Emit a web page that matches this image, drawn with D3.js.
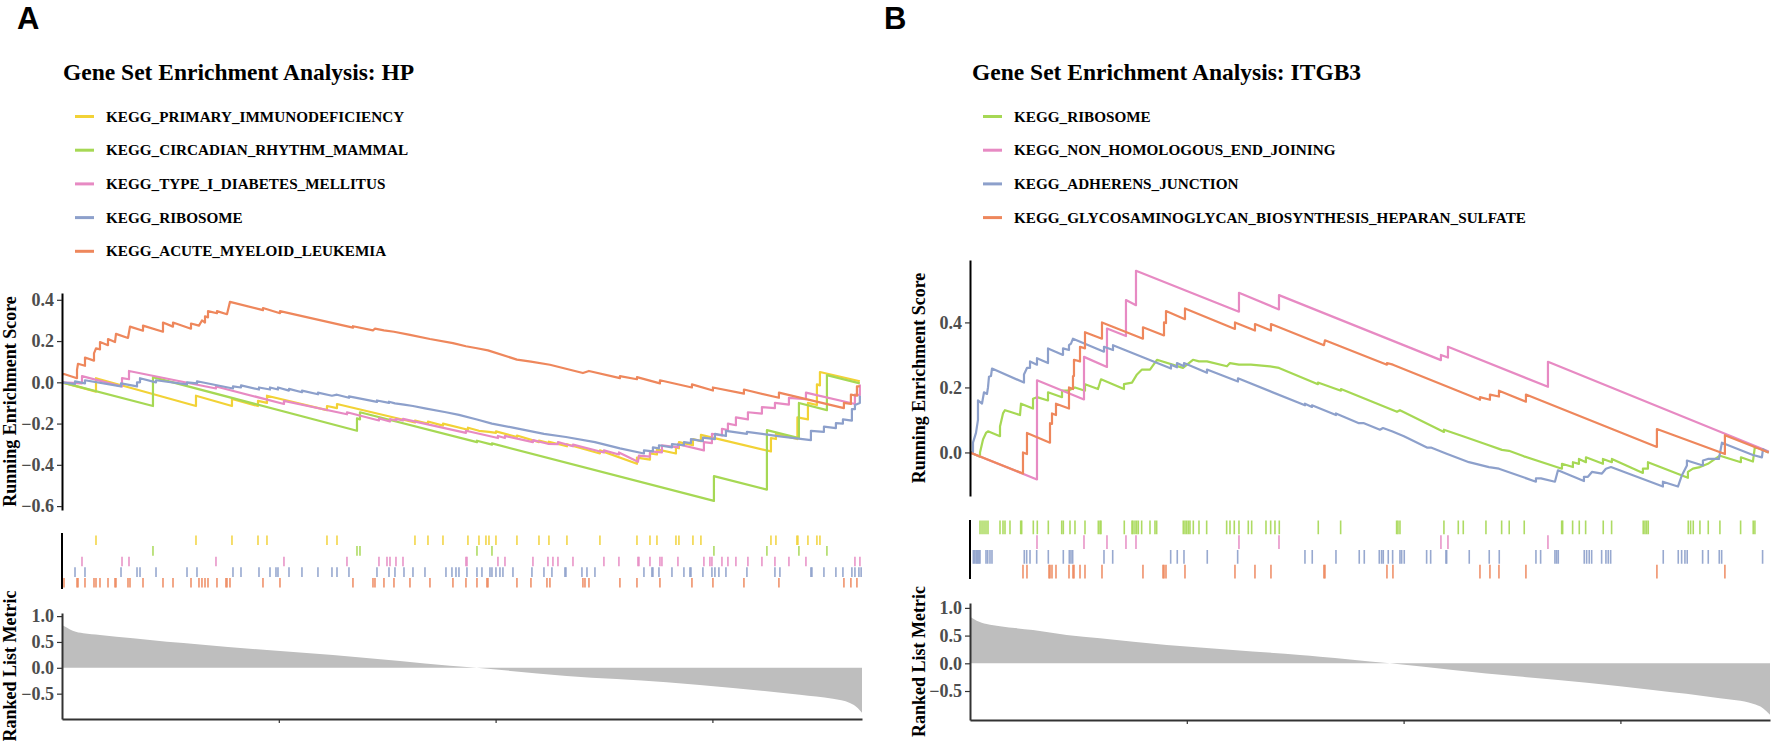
<!DOCTYPE html>
<html>
<head>
<meta charset="utf-8">
<script src="https://cdn.jsdelivr.net/npm/d3@7"></script>
<style>
body { margin: 0; background: #fff; }
svg text { font-family: "Liberation Serif", "Times New Roman", serif; font-weight: bold; }
</style>
</head>
<body>
<div id="chart"></div>
<script>
// ranked gene list length and the unlabeled ticks on the rank axis
const nGenes = 18450;
const rankTicks = [5000, 10000, 15000];
const metricTicks = [-0.5, 0, 0.5, 1];

// ---------- panel A : HP ----------
const titleA = "Gene Set Enrichment Analysis: HP";
const setsA = ["KEGG_PRIMARY_IMMUNODEFICIENCY", "KEGG_CIRCADIAN_RHYTHM_MAMMAL",
  "KEGG_TYPE_I_DIABETES_MELLITUS", "KEGG_RIBOSOME", "KEGG_ACUTE_MYELOID_LEUKEMIA"];
const esTicksA = [-0.6, -0.4, -0.2, 0, 0.2, 0.4];

// running enrichment score, [rank, score]
const esA_primary = [[0,0],[784,-0.045],[784,0.02],[3090,-0.115],[3090,-0.065],[3920,-0.115],[3920,-0.08],[4520,-0.115],[4520,-0.09],[4727,-0.1],[4727,-0.065],[6111,-0.135],[6111,-0.115],[6342,-0.125],[6342,-0.105],[8140,-0.195],[8140,-0.185],[8440,-0.2],[8440,-0.19],[8786,-0.21],[8786,-0.2],[9362,-0.23],[9362,-0.22],[9616,-0.235],[9847,-0.24],[10008,-0.245],[10008,-0.238],[10492,-0.265],[10492,-0.258],[11000,-0.29],[11000,-0.282],[11230,-0.295],[11230,-0.288],[11645,-0.31],[11645,-0.3],[12406,-0.345],[12406,-0.33],[13260,-0.395],[13260,-0.365],[13560,-0.375],[13560,-0.345],[13721,-0.35],[13721,-0.325],[14159,-0.345],[14159,-0.315],[14228,-0.32],[14228,-0.29],[14551,-0.305],[14551,-0.275],[14735,-0.285],[14735,-0.255],[16350,-0.335],[16350,-0.27],[16465,-0.275],[16465,-0.25],[16960,-0.275],[16960,-0.17],[17203,-0.18],[17203,-0.1],[17410,-0.11],[17410,-0.01],[17480,-0.015],[17480,0.05],[18400,0.005]];
const esA_circadian = [[0,0],[2098,-0.115],[2098,0.025],[6803,-0.235],[6803,-0.175],[6872,-0.18],[6872,-0.145],[9570,-0.29],[9570,-0.283],[9916,-0.302],[9916,-0.296],[15035,-0.575],[15035,-0.455],[16257,-0.52],[16257,-0.232],[16995,-0.27],[16995,-0.1],[17641,-0.135],[17641,0.035],[18400,-0.005]];
const esA_diabetes = [[0,0],[461,-0.005],[461,0.03],[1384,-0.02],[1384,0.02],[1545,0.015],[1545,0.055],[3551,-0.03],[3551,-0.02],[5119,-0.105],[5119,-0.09],[6572,-0.155],[6572,-0.145],[7310,-0.185],[7310,-0.175],[7564,-0.19],[7564,-0.178],[7702,-0.185],[7702,-0.177],[7864,-0.185],[7864,-0.177],[9316,-0.245],[9316,-0.235],[10054,-0.27],[10054,-0.26],[10216,-0.27],[10216,-0.26],[10861,-0.29],[10861,-0.28],[11207,-0.298],[11438,-0.3],[11438,-0.29],[11784,-0.31],[11784,-0.302],[12498,-0.34],[12498,-0.33],[12844,-0.35],[12844,-0.34],[13283,-0.385],[13306,-0.355],[13560,-0.36],[13560,-0.335],[13836,-0.34],[13836,-0.305],[14205,-0.315],[14205,-0.3],[14804,-0.33],[14804,-0.29],[14989,-0.295],[14989,-0.25],[15220,-0.258],[15220,-0.225],[15358,-0.232],[15358,-0.2],[15542,-0.208],[15542,-0.17],[15819,-0.18],[15819,-0.145],[16142,-0.152],[16142,-0.12],[16442,-0.125],[16442,-0.1],[16765,-0.108],[16765,-0.075],[17157,-0.082],[17157,-0.05],[18287,-0.105],[18287,-0.06],[18400,-0.062],[18400,-0.01]];
const esA_ribosome = [[0,0],[300,-0.008],[300,0.005],[530,-0.005],[530,0.01],[1361,-0.02],[1361,-0.005],[1730,-0.02],[1730,0],[1799,0],[1799,0.02],[2168,0],[2168,0.01],[2883,-0.01],[2883,0],[3113,-0.005],[3113,0.005],[3943,-0.03],[3943,-0.02],[4128,-0.025],[4128,-0.015],[4543,-0.035],[4543,-0.025],[4797,-0.035],[4797,-0.025],[4981,-0.035],[4981,-0.025],[5235,-0.04],[5235,-0.032],[5534,-0.048],[5534,-0.04],[5903,-0.058],[5903,-0.05],[6226,-0.065],[6342,-0.06],[6618,-0.075],[6618,-0.068],[7264,-0.095],[7264,-0.088],[7541,-0.1],[7541,-0.094],[7679,-0.102],[7887,-0.108],[8094,-0.115],[8371,-0.126],[8855,-0.145],[9155,-0.158],[9570,-0.18],[9916,-0.2],[10400,-0.22],[11115,-0.25],[11622,-0.265],[12291,-0.29],[12868,-0.32],[13421,-0.345],[13421,-0.33],[13628,-0.335],[13628,-0.315],[13767,-0.32],[13767,-0.305],[14067,-0.315],[14067,-0.3],[14343,-0.305],[14343,-0.29],[14505,-0.295],[14505,-0.275],[14781,-0.285],[14781,-0.268],[15058,-0.275],[15058,-0.25],[15312,-0.26],[15312,-0.235],[15796,-0.25],[15796,-0.24],[16557,-0.262],[17272,-0.28],[17272,-0.235],[17572,-0.24],[17572,-0.215],[17848,-0.222],[17848,-0.198],[18010,-0.2],[18010,-0.18],[18217,-0.186],[18217,-0.13],[18287,-0.13],[18287,-0.11],[18400,-0.1],[18400,-0.065]];
const esA_aml = [[0,0.04],[46,0.04],[346,0.02],[346,0.06],[369,0.09],[530,0.08],[530,0.12],[738,0.105],[738,0.14],[784,0.165],[876,0.16],[876,0.195],[1061,0.18],[1061,0.21],[1222,0.195],[1245,0.235],[1522,0.215],[1568,0.27],[1868,0.25],[1868,0.275],[2329,0.245],[2329,0.29],[2560,0.27],[2560,0.29],[2975,0.26],[2975,0.285],[3159,0.275],[3228,0.3],[3298,0.29],[3298,0.32],[3367,0.315],[3367,0.345],[3574,0.335],[3574,0.345],[3805,0.33],[3874,0.39],[4635,0.35],[4635,0.36],[5027,0.335],[5027,0.345],[6710,0.265],[6710,0.272],[7172,0.252],[7218,0.26],[7425,0.252],[7656,0.245],[8025,0.23],[8486,0.21],[9016,0.19],[9316,0.175],[9570,0.165],[9824,0.155],[10492,0.11],[10815,0.1],[11253,0.085],[12014,0.045],[12153,0.055],[12867,0.02],[12867,0.03],[13260,0.015],[13260,0.025],[13790,-0.005],[13790,0.01],[14528,-0.025],[14528,-0.01],[15012,-0.04],[15012,-0.025],[15727,-0.055],[15727,-0.035],[16534,-0.075],[16534,-0.05],[18033,-0.125],[18033,-0.1],[18194,-0.105],[18194,-0.06],[18333,-0.065],[18333,-0.02],[18400,-0.02]];

// gene hit positions (rank) for the rug rows
const hitsA_primary = [784,3090,3920,4520,4727,6111,6342,8140,8440,8786,9362,9616,9777,9847,10008,10492,11000,11230,11645,12406,13260,13560,13721,14159,14228,14551,14735,16350,16465,16949,16972,17203,17410,17480];
const hitsA_circadian = [2098,6803,6872,9570,9916,15035,16257,16995,17641];
const hitsA_diabetes = [461,1384,1545,3551,5119,6572,7310,7495,7564,7702,7864,9316,9340,10054,10216,10861,11207,11322,11438,11784,12498,12844,13283,13306,13560,13790,13836,14205,14804,14943,14989,15220,15358,15542,15819,16142,16442,16765,17157,18287,18402];
const hitsA_ribosome = [300,530,1361,1730,1799,2168,2883,3113,3943,4128,4543,4797,4935,4981,5235,5534,5903,6226,6342,6618,7264,7541,7679,7887,8094,8371,8855,8993,9086,9155,9339,9570,9685,9870,9916,10008,10100,10169,10400,10838,11115,11299,11599,11622,11991,12107,12291,13421,13605,13628,13767,14067,14343,14482,14505,14781,14989,15058,15150,15312,15796,16442,16557,17272,17295,17572,17848,18010,18217,18287,18379,18430];
const hitsA_aml = [46,346,369,530,738,784,876,1061,1222,1245,1522,1568,1868,2329,2560,2975,3159,3228,3298,3367,3574,3781,3805,3874,4635,5027,6710,7172,7218,7425,7656,8025,8486,9016,9316,9570,9800,9824,10492,10815,11184,11253,12014,12061,12153,12867,13260,13790,14528,15012,15727,16534,18033,18194,18333];

// ranked list metric, [rank, metric]
const metricA = [[0,0.83],[108,0.78],[261,0.71],[491,0.667],[876,0.634],[1637,0.57],[2421,0.504],[3182,0.453],[4727,0.343],[6249,0.246],[7794,0.13],[8947,0.04],[9563,0],[11638,-0.16],[13945,-0.28],[15473,-0.39],[17018,-0.52],[17779,-0.6],[18171,-0.68],[18356,-0.78],[18450,-0.87]];

// ---------- panel B : ITGB3 ----------
const titleB = "Gene Set Enrichment Analysis: ITGB3";
const setsB = ["KEGG_RIBOSOME", "KEGG_NON_HOMOLOGOUS_END_JOINING",
  "KEGG_ADHERENS_JUNCTION", "KEGG_GLYCOSAMINOGLYCAN_BIOSYNTHESIS_HEPARAN_SULFATE"];
const esTicksB = [0, 0.2, 0.4];

const esB_ribosome = [[0,0],[231,-0.013],[231,0],[300,0.04],[369,0.06],[415,0.065],[692,0.05],[692,0.08],[761,0.12],[807,0.13],[922,0.125],[1153,0.115],[1176,0.15],[1453,0.135],[1453,0.165],[1545,0.17],[1799,0.16],[1799,0.185],[2122,0.17],[2122,0.19],[2260,0.19],[2421,0.2],[2652,0.19],[2652,0.21],[2952,0.195],[3021,0.225],[3551,0.195],[3551,0.21],[3736,0.215],[3851,0.24],[3966,0.255],[4151,0.255],[4312,0.285],[4912,0.26],[5142,0.285],[5281,0.28],[5465,0.28],[5926,0.265],[5996,0.275],[6203,0.27],[6480,0.27],[6918,0.265],[7126,0.26],[8025,0.21],[8025,0.215],[8555,0.19],[8555,0.195],[9847,0.125],[9916,0.13],[10930,0.063],[10930,0.07],[11369,0.05],[11899,0.025],[12268,0.008],[12429,0.005],[12775,-0.012],[13652,-0.05],[13652,-0.035],[13905,-0.045],[13905,-0.03],[14044,-0.035],[14044,-0.02],[14205,-0.03],[14205,-0.015],[14597,-0.035],[14597,-0.02],[14804,-0.03],[14804,-0.02],[15519,-0.063],[15519,-0.05],[15635,-0.05],[15635,-0.03],[16557,-0.078],[16557,-0.06],[16672,-0.05],[16834,-0.045],[17018,-0.035],[17295,-0.01],[17779,-0.03],[17779,-0.015],[18056,-0.028],[18102,0.018],[18420,0]];
const esB_nhej = [[0,0],[1545,-0.083],[1545,0.222],[2629,0.163],[2629,0.294],[3159,0.263],[3159,0.381],[3597,0.358],[3597,0.469],[3828,0.453],[3828,0.559],[6203,0.433],[6203,0.491],[7126,0.44],[7126,0.484],[10861,0.284],[10861,0.3],[11023,0.292],[11023,0.325],[13329,0.202],[13329,0.279],[18420,0.003]];
const esB_adherens = [[0,0],[69,0],[69,0.03],[138,0.06],[184,0.1],[184,0.16],[277,0.15],[323,0.185],[392,0.18],[415,0.2],[438,0.233],[484,0.235],[507,0.258],[1245,0.215],[1245,0.24],[1314,0.26],[1384,0.26],[1384,0.28],[1545,0.27],[1545,0.29],[1799,0.275],[1799,0.32],[2145,0.3],[2145,0.32],[2283,0.315],[2283,0.33],[2329,0.335],[2375,0.35],[3090,0.31],[3090,0.325],[3298,0.315],[3298,0.33],[4635,0.258],[4635,0.27],[4773,0.262],[4773,0.275],[4935,0.265],[4935,0.275],[5465,0.245],[5465,0.255],[6180,0.218],[6180,0.228],[7725,0.145],[7725,0.15],[7887,0.14],[7887,0.145],[8440,0.115],[8440,0.12],[8970,0.09],[9086,0.09],[9455,0.07],[9524,0.075],[9731,0.065],[10008,0.05],[10538,0.015],[10630,0.015],[10977,-0.003],[11507,-0.03],[11968,-0.045],[12199,-0.05],[13052,-0.09],[13052,-0.08],[13167,-0.08],[13490,-0.09],[13560,-0.055],[14159,-0.088],[14159,-0.075],[14251,-0.075],[14343,-0.06],[14574,-0.065],[14666,-0.05],[14781,-0.045],[15980,-0.105],[15980,-0.09],[16327,-0.105],[16419,-0.07],[16534,-0.04],[16534,-0.025],[16903,-0.04],[16903,-0.025],[17018,-0.02],[17272,-0.02],[17341,0.03],[18056,-0.008],[18264,-0.015],[18287,0.01],[18420,0]];
const esB_heparan = [[0,0],[1222,-0.065],[1222,0],[1314,-0.005],[1314,0.06],[1845,0.03],[1845,0.09],[1891,0.088],[1891,0.12],[1983,0.115],[1983,0.15],[2283,0.135],[2283,0.2],[2375,0.195],[2375,0.235],[2398,0.235],[2398,0.285],[2537,0.28],[2537,0.325],[2652,0.32],[2652,0.37],[3044,0.35],[3044,0.4],[3989,0.35],[3989,0.385],[4474,0.36],[4474,0.4],[4520,0.398],[4520,0.435],[4958,0.41],[4958,0.443],[6111,0.38],[6111,0.4],[6572,0.375],[6572,0.395],[6941,0.375],[6941,0.395],[8163,0.33],[8186,0.345],[9616,0.27],[9616,0.275],[9754,0.27],[11761,0.162],[11761,0.17],[11991,0.162],[11991,0.178],[12199,0.172],[12199,0.19],[12821,0.156],[12821,0.178],[15842,0.017],[15842,0.072],[17410,-0.005],[17410,0.053],[18420,0]];

const hitsB_ribosome = [231,277,323,369,415,692,761,807,922,1169,1192,1460,1552,1806,2115,2152,2306,2421,2652,2959,2998,3021,3558,3736,3759,3805,3844,3882,3959,4151,4266,4305,4919,4958,4996,5035,5073,5150,5281,5458,5919,5996,6095,6203,6418,6496,6826,6934,7033,7133,8032,8548,9839,9870,9916,10930,11261,11376,11899,12261,12436,12782,13645,13668,13898,14051,14198,14604,14797,15526,15566,15604,15642,16565,16619,16680,16834,17026,17295,17772,18063,18102];
const hitsB_nhej = [1545,2629,3159,3597,3828,6203,7126,10861,11023,13329];
const hitsB_adherens = [76,104,138,161,184,208,231,369,408,461,507,1252,1307,1384,1538,1806,2152,2290,2329,2368,3090,3291,4628,4780,4935,5472,6173,7725,7893,8440,8977,9093,9439,9493,9531,9646,9747,9916,9955,10015,10531,10624,10977,10993,11514,11975,12206,13052,13160,13490,13529,13567,14166,14221,14281,14337,14567,14666,14720,14775,15988,16334,16412,16488,16541,16896,17026,17280,17335,18279];
const hitsB_heparan = [1222,1314,1822,1845,1891,1983,2283,2375,2398,2537,2652,3044,3989,4451,4474,4520,4958,6111,6572,6941,8163,8186,9616,9754,11761,11991,12199,12821,15842,17410];

const metricB = [[0,0.84],[154,0.77],[385,0.71],[692,0.67],[1453,0.6],[2230,0.51],[2998,0.45],[4536,0.33],[6065,0.24],[7610,0.15],[8071,0.12],[8763,0.07],[9685,0],[11138,-0.12],[12683,-0.24],[14228,-0.35],[15750,-0.48],[17295,-0.63],[18056,-0.73],[18287,-0.81],[18450,-0.93]];

// colours
const yellow = "#F2D236", green = "#A6D854", pink = "#E78AC3", blue = "#8DA0CB", orange = "#EE875C";

let width = 1772;
let height = 741;

let svg = d3.select("#chart")
  .append("svg")
  .attr("width", width)
  .attr("height", height);

svg.append("rect")
  .attr("width", width)
  .attr("height", height)
  .attr("fill", "white");

drawPanel({
  letter: "A", letterX: 17, title: titleA, titleX: 63,
  sets: setsA, colors: [yellow, green, pink, blue, orange],
  es: [esA_primary, esA_circadian, esA_diabetes, esA_ribosome, esA_aml],
  hits: [hitsA_primary, hitsA_circadian, hitsA_diabetes, hitsA_ribosome, hitsA_aml],
  metric: metricA, esTicks: esTicksA,
  left: 62, right: 862, legendLineX: 75, legendTextX: 106, legendY0: 116.5, legendStep: 33.7,
  esDomain: [-0.619, 0.433], esRange: [510, 293],
  rugTop: 535, rugBottom: 588, rugAxis: [533, 589],
  metricDomain: [-0.99, 1.06], metricRange: [719, 613],
  labelX: 16
});

drawPanel({
  letter: "B", letterX: 884, title: titleB, titleX: 972,
  sets: setsB, colors: [green, pink, blue, orange],
  es: [esB_ribosome, esB_nhej, esB_adherens, esB_heparan],
  hits: [hitsB_ribosome, hitsB_nhej, hitsB_adherens, hitsB_heparan],
  metric: metricB, esTicks: esTicksB,
  left: 970, right: 1770, legendLineX: 983, legendTextX: 1014, legendY0: 116.5, legendStep: 33.7,
  esDomain: [-0.134, 0.592], esRange: [496, 260],
  rugTop: 520, rugBottom: 579, rugAxis: [520, 579],
  metricDomain: [-1.023, 1.088], metricRange: [720, 603],
  labelX: 925
});

function drawPanel(p) {
  let g = svg.append("g");

  g.append("text")
    .attr("x", p.letterX).attr("y", 29)
    .style("font-family", "'Liberation Sans', Arial, sans-serif")
    .style("font-size", "31px")
    .text(p.letter);

  g.append("text")
    .attr("x", p.titleX).attr("y", 80)
    .style("font-size", "23.5px")
    .text(p.title);

  // legend
  let leg = g.selectAll(".leg").data(p.sets).enter().append("g");
  leg.append("line")
    .attr("x1", p.legendLineX).attr("x2", p.legendLineX + 19)
    .attr("y1", (d, i) => p.legendY0 + i * p.legendStep)
    .attr("y2", (d, i) => p.legendY0 + i * p.legendStep)
    .attr("stroke", (d, i) => p.colors[i])
    .attr("stroke-width", 3);
  leg.append("text")
    .attr("x", p.legendTextX)
    .attr("y", (d, i) => p.legendY0 + i * p.legendStep + 5)
    .style("font-size", "15.2px")
    .text(d => d);

  let xScale = d3.scaleLinear().domain([0, nGenes]).range([p.left, p.right]);
  let yEs = d3.scaleLinear().domain(p.esDomain).range(p.esRange);
  let yMetric = d3.scaleLinear().domain(p.metricDomain).range(p.metricRange);

  // running enrichment score
  let line = d3.line().x(d => xScale(d[0])).y(d => yEs(d[1]));
  g.selectAll(".es").data(p.es).enter().append("path")
    .attr("d", line)
    .attr("fill", "none")
    .attr("stroke", (d, i) => p.colors[i])
    .attr("stroke-width", 2.2)
    .attr("stroke-linejoin", "round");

  let esAxis = g.append("g")
    .attr("transform", `translate(${p.left},0)`)
    .call(d3.axisLeft(yEs).tickValues(p.esTicks).tickFormat(d3.format(".1f")).tickSize(5).tickSizeOuter(0));
  styleAxis(esAxis, "black");

  // hit rug
  let rowH = (p.rugBottom - p.rugTop) / p.sets.length;
  p.hits.forEach((hits, i) => {
    g.append("g").selectAll("line").data(hits).enter().append("line")
      .attr("x1", d => xScale(d)).attr("x2", d => xScale(d))
      .attr("y1", p.rugTop + i * rowH + 0.5)
      .attr("y2", p.rugTop + (i + 1) * rowH - 0.5)
      .attr("stroke", p.colors[i])
      .attr("stroke-width", 1.6)
      .attr("opacity", 0.9);
  });
  g.append("line")
    .attr("x1", p.left).attr("x2", p.left)
    .attr("y1", p.rugAxis[0]).attr("y2", p.rugAxis[1])
    .attr("stroke", "black").attr("stroke-width", 2);

  // ranked list metric
  let area = d3.area()
    .x(d => xScale(d[0]))
    .y0(yMetric(0))
    .y1(d => yMetric(d[1]))
    .curve(d3.curveMonotoneX);
  g.append("path")
    .datum(p.metric)
    .attr("d", area)
    .attr("fill", "#BEBEBE");

  let mAxis = g.append("g")
    .attr("transform", `translate(${p.left},0)`)
    .call(d3.axisLeft(yMetric).tickValues(metricTicks).tickFormat(d3.format(".1f")).tickSize(5).tickSizeOuter(0));
  styleAxis(mAxis, "#333");

  let xAxis = g.append("g")
    .attr("transform", `translate(0,${p.metricRange[0]})`)
    .call(d3.axisBottom(xScale).tickValues(rankTicks).tickFormat("").tickSize(4).tickSizeOuter(0));
  styleAxis(xAxis, "#333");

  // axis titles
  g.append("text")
    .attr("transform", `translate(${p.labelX},${(p.esRange[0] + p.esRange[1]) / 2}) rotate(-90)`)
    .attr("text-anchor", "middle")
    .style("font-size", "18px")
    .text("Running Enrichment Score");
  g.append("text")
    .attr("transform", `translate(${p.labelX},${(p.metricRange[0] + p.metricRange[1]) / 2}) rotate(-90)`)
    .attr("text-anchor", "middle")
    .style("font-size", "18px")
    .text("Ranked List Metric");
}

function styleAxis(ax, col) {
  ax.select(".domain").attr("stroke", col).attr("stroke-width", 2);
  ax.selectAll(".tick line").attr("stroke", "#333").attr("stroke-width", 1.2);
  ax.selectAll(".tick text")
    .attr("fill", "#4D4D4D")
    .style("font-size", "18px")
    .style("font-family", "'Liberation Serif', 'Times New Roman', serif")
    .style("font-weight", "bold");
}
</script>
</body>
</html>
